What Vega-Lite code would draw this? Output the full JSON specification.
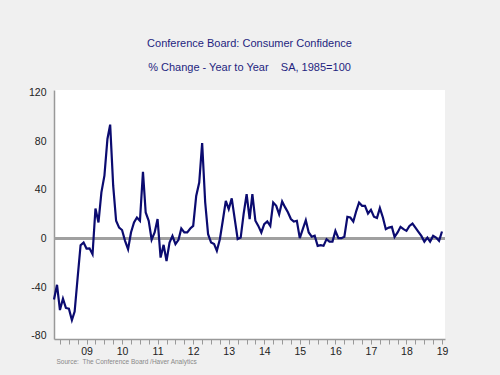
{
  "$schema": "https://vega.github.io/schema/vega-lite/v6.json",
  "autosize": "none",
  "width": 391,
  "height": 249,
  "padding": {"left": 54, "top": 90, "right": 55, "bottom": 36},
  "background": "#f0f0f0",
  "config": {"view": {"stroke": null, "fill": "white"}},
  "title": {
    "text": "Conference Board: Consumer Confidence",
    "subtitle": "% Change - Year to Year\u00a0\u00a0\u00a0\u00a0SA, 1985=100",
    "anchor": "middle",
    "font": "Liberation Sans",
    "subtitleFont": "Liberation Sans",
    "fontSize": 11,
    "subtitleFontSize": 11,
    "fontWeight": "normal",
    "color": "#1f1f7f",
    "subtitleColor": "#1f1f7f",
    "offset": 14,
    "subtitlePadding": 13
  },
  "data": {"values": [
    {"month": "2008-08-01", "value": -50},
    {"month": "2008-09-01", "value": -38},
    {"month": "2008-10-01", "value": -58.7},
    {"month": "2008-11-01", "value": -49.4},
    {"month": "2008-12-01", "value": -57},
    {"month": "2009-01-01", "value": -57.6},
    {"month": "2009-02-01", "value": -67},
    {"month": "2009-03-01", "value": -60},
    {"month": "2009-04-01", "value": -32},
    {"month": "2009-05-01", "value": -5.5},
    {"month": "2009-06-01", "value": -3.3},
    {"month": "2009-07-01", "value": -8.2},
    {"month": "2009-08-01", "value": -8},
    {"month": "2009-09-01", "value": -12.9},
    {"month": "2009-10-01", "value": 24.7},
    {"month": "2009-11-01", "value": 13.2},
    {"month": "2009-12-01", "value": 37.9},
    {"month": "2010-01-01", "value": 51.6},
    {"month": "2010-02-01", "value": 81.8},
    {"month": "2010-03-01", "value": 93.6},
    {"month": "2010-04-01", "value": 43.4},
    {"month": "2010-05-01", "value": 14.6},
    {"month": "2010-06-01", "value": 9},
    {"month": "2010-07-01", "value": 7},
    {"month": "2010-08-01", "value": -1.9},
    {"month": "2010-09-01", "value": -8.7},
    {"month": "2010-10-01", "value": 5},
    {"month": "2010-11-01", "value": 13.2},
    {"month": "2010-12-01", "value": 17.3},
    {"month": "2011-01-01", "value": 14.6},
    {"month": "2011-02-01", "value": 54.9},
    {"month": "2011-03-01", "value": 21.4},
    {"month": "2011-04-01", "value": 14.6},
    {"month": "2011-05-01", "value": -1},
    {"month": "2011-06-01", "value": 5},
    {"month": "2011-07-01", "value": 16},
    {"month": "2011-08-01", "value": -15.6},
    {"month": "2011-09-01", "value": -5.2},
    {"month": "2011-10-01", "value": -18.4},
    {"month": "2011-11-01", "value": -3.3},
    {"month": "2011-12-01", "value": 2.2},
    {"month": "2012-01-01", "value": -4.6},
    {"month": "2012-02-01", "value": -1.1},
    {"month": "2012-03-01", "value": 8.2},
    {"month": "2012-04-01", "value": 5},
    {"month": "2012-05-01", "value": 5},
    {"month": "2012-06-01", "value": 8.2},
    {"month": "2012-07-01", "value": 10.4},
    {"month": "2012-08-01", "value": 35},
    {"month": "2012-09-01", "value": 46},
    {"month": "2012-10-01", "value": 78.5},
    {"month": "2012-11-01", "value": 30},
    {"month": "2012-12-01", "value": 3.6},
    {"month": "2013-01-01", "value": -3.3},
    {"month": "2013-02-01", "value": -4.6},
    {"month": "2013-03-01", "value": -10.1},
    {"month": "2013-04-01", "value": -0.5},
    {"month": "2013-05-01", "value": 14.6},
    {"month": "2013-06-01", "value": 31},
    {"month": "2013-07-01", "value": 24.2},
    {"month": "2013-08-01", "value": 33},
    {"month": "2013-09-01", "value": 16},
    {"month": "2013-10-01", "value": -0.5},
    {"month": "2013-11-01", "value": 0.8},
    {"month": "2013-12-01", "value": 20},
    {"month": "2014-01-01", "value": 36.5},
    {"month": "2014-02-01", "value": 16},
    {"month": "2014-03-01", "value": 36.5},
    {"month": "2014-04-01", "value": 14.6},
    {"month": "2014-05-01", "value": 10.4},
    {"month": "2014-06-01", "value": 5},
    {"month": "2014-07-01", "value": 11.8},
    {"month": "2014-08-01", "value": 14},
    {"month": "2014-09-01", "value": 10.4},
    {"month": "2014-10-01", "value": 29.6},
    {"month": "2014-11-01", "value": 26.9},
    {"month": "2014-12-01", "value": 20},
    {"month": "2015-01-01", "value": 30.5},
    {"month": "2015-02-01", "value": 25.6},
    {"month": "2015-03-01", "value": 21.6},
    {"month": "2015-04-01", "value": 16},
    {"month": "2015-05-01", "value": 14},
    {"month": "2015-06-01", "value": 14.6},
    {"month": "2015-07-01", "value": 0.3},
    {"month": "2015-08-01", "value": 7.7},
    {"month": "2015-09-01", "value": 15.1},
    {"month": "2015-10-01", "value": 5},
    {"month": "2015-11-01", "value": 1.5},
    {"month": "2015-12-01", "value": 2.3},
    {"month": "2016-01-01", "value": -6},
    {"month": "2016-02-01", "value": -5.5},
    {"month": "2016-03-01", "value": -6},
    {"month": "2016-04-01", "value": -0.5},
    {"month": "2016-05-01", "value": -2.5},
    {"month": "2016-06-01", "value": -2.5},
    {"month": "2016-07-01", "value": 6.3},
    {"month": "2016-08-01", "value": 0.3},
    {"month": "2016-09-01", "value": 0.3},
    {"month": "2016-10-01", "value": 1.5},
    {"month": "2016-11-01", "value": 17.9},
    {"month": "2016-12-01", "value": 17.3},
    {"month": "2017-01-01", "value": 14},
    {"month": "2017-02-01", "value": 22.8},
    {"month": "2017-03-01", "value": 29.6},
    {"month": "2017-04-01", "value": 26.9},
    {"month": "2017-05-01", "value": 26.9},
    {"month": "2017-06-01", "value": 20.6},
    {"month": "2017-07-01", "value": 23.6},
    {"month": "2017-08-01", "value": 17.9},
    {"month": "2017-09-01", "value": 16.8},
    {"month": "2017-10-01", "value": 25},
    {"month": "2017-11-01", "value": 17.3},
    {"month": "2017-12-01", "value": 7.7},
    {"month": "2018-01-01", "value": 9},
    {"month": "2018-02-01", "value": 9.6},
    {"month": "2018-03-01", "value": 1.4},
    {"month": "2018-04-01", "value": 5},
    {"month": "2018-05-01", "value": 9.6},
    {"month": "2018-06-01", "value": 7.7},
    {"month": "2018-07-01", "value": 6.3},
    {"month": "2018-08-01", "value": 10.4},
    {"month": "2018-09-01", "value": 12.3},
    {"month": "2018-10-01", "value": 9},
    {"month": "2018-11-01", "value": 5.5},
    {"month": "2018-12-01", "value": 2.2},
    {"month": "2019-01-01", "value": -2.5},
    {"month": "2019-02-01", "value": 0.8},
    {"month": "2019-03-01", "value": -2.5},
    {"month": "2019-04-01", "value": 2.2},
    {"month": "2019-05-01", "value": 0.8},
    {"month": "2019-06-01", "value": -1.9},
    {"month": "2019-07-01", "value": 5.8}
  ]},
  "encoding": {
    "x": {
      "field": "month",
      "type": "temporal",
      "scale": {
        "type": "utc",
        "domain": [
          {"year": 2008, "month": 8, "date": 1, "utc": true},
          {"year": 2019, "month": 8, "date": 1, "utc": true}
        ],
        "nice": false
      },
      "axis": {
        "title": "Source:\u00a0\u00a0The Conference Board /Haver Analytics",
        "titleFont": "Liberation Sans",
        "titleFontSize": 6.5,
        "titleFontWeight": "normal",
        "titleColor": "#888888",
        "titleX": 2,
        "titleY": 22,
        "titleAlign": "left",
        "titleBaseline": "middle",
        "tickCount": {"interval": "month", "step": 3},
        "tickSize": 5,
        "tickColor": "#999999",
        "domainColor": "#999999",
        "domainWidth": 1.5,
        "grid": false,
        "labelExpr": "utcmonth(datum.value) == 6 ? utcFormat(datum.value, '%y') : ''",
        "labelFlush": false,
        "labelOverlap": false,
        "labelBound": false,
        "labelFont": "Liberation Sans",
        "labelFontSize": 10.5,
        "labelColor": "#222222",
        "labelPadding": 2
      }
    },
    "y": {
      "field": "value",
      "type": "quantitative",
      "scale": {"domain": [-82.5, 122], "nice": false, "zero": false},
      "axis": {
        "title": null,
        "values": [-80, -40, 0, 40, 80, 120],
        "labelExpr": "'' + datum.value",
        "ticks": false,
        "grid": false,
        "domainColor": "#999999",
        "domainWidth": 1.5,
        "labelFont": "Liberation Sans",
        "labelFontSize": 10.5,
        "labelColor": "#222222",
        "labelPadding": 8
      }
    }
  },
  "layer": [
    {
      "mark": {"type": "rule", "color": "#a0a0a0", "strokeWidth": 2},
      "encoding": {"y": {"datum": 0}, "x": {"value": 0}, "x2": {"value": 391}}
    },
    {
      "mark": {"type": "line", "color": "#0b0b70", "strokeWidth": 2.2}
    }
  ]
}
